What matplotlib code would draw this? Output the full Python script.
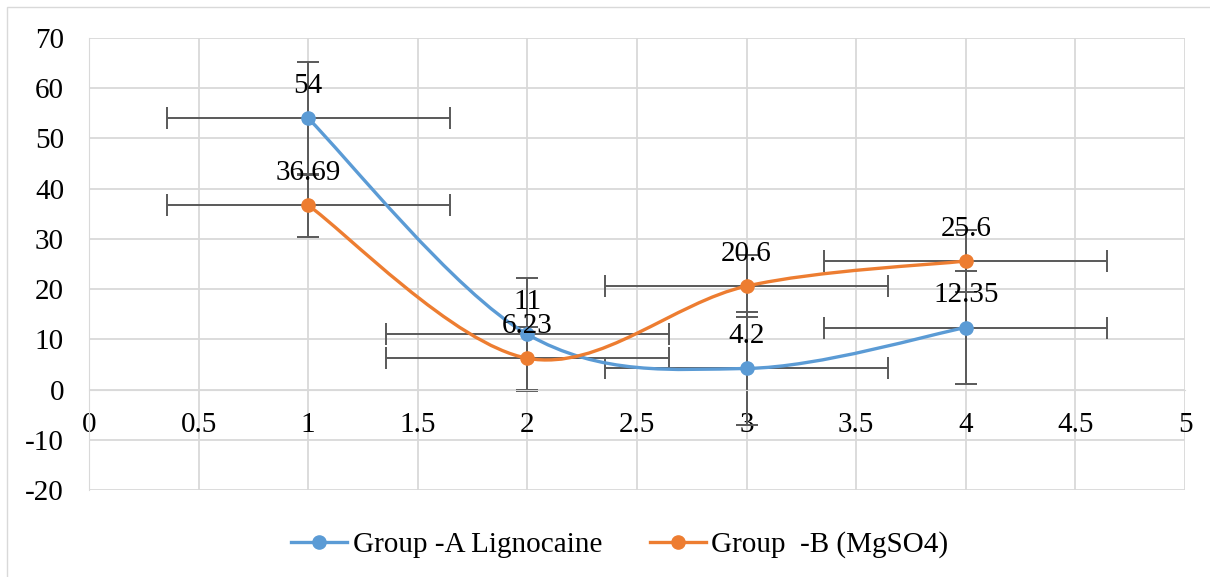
import numpy as np
import matplotlib
matplotlib.use("Agg")
import matplotlib.pyplot as plt
from matplotlib.path import Path
from matplotlib.patches import PathPatch, Rectangle
from matplotlib.lines import Line2D

# data
x_vals = [1, 2, 3, 4]
group_a = [54, 11, 4.2, 12.35]
group_b = [36.69, 6.23, 20.6, 25.6]
label_a = ["54", "11", "4.2", "12.35"]
label_b = ["36.69", "6.23", "20.6", "25.6"]
x_err = 0.645
y_err_a = 11.3
y_err_b = 6.25

series_names = ["Group -A Lignocaine", "Group  -B (MgSO4)"]
colors = ["#5B9BD5", "#ED7D31"]

x_ticks = [0, 0.5, 1, 1.5, 2, 2.5, 3, 3.5, 4, 4.5, 5]
x_tick_labels = ["0", "0.5", "1", "1.5", "2", "2.5", "3", "3.5", "4", "4.5", "5"]
y_ticks = [-20, -10, 0, 10, 20, 30, 40, 50, 60, 70]

plt.rcParams["font.family"] = ["Liberation Serif", "DejaVu Serif"]
plt.rcParams["axes.unicode_minus"] = False
FS = 21


def smooth_path(xs, ys):
    # Excel-like smoothed line: cubic bezier segments, catmull-rom style handles
    pts = np.column_stack([xs, ys]).astype(float)
    n = len(pts)
    verts = [pts[0]]
    codes = [Path.MOVETO]
    for i in range(n - 1):
        p0 = pts[i - 1] if i > 0 else pts[i]
        p1 = pts[i]
        p2 = pts[i + 1]
        p3 = pts[i + 2] if i + 2 < n else pts[i + 1]
        c1 = p1 + (p2 - p0) / 6.0
        c2 = p2 - (p3 - p1) / 6.0
        verts += [c1, c2, p2]
        codes += [Path.CURVE4] * 3
    return Path(verts, codes)


fig = plt.figure(figsize=(12.1, 5.77), dpi=100)
ax = fig.add_axes([89 / 1210, 1 - 490 / 577, (1185 - 89) / 1210, (490 - 38) / 577])

# outer chart border
fig.patches.append(Rectangle((7 / 1210, -0.01), 1.0, 1 - 7 / 577 + 0.01,
                             transform=fig.transFigure, fill=False,
                             edgecolor="#d9d9d9", lw=1.0))

ax.set_xlim(0, 5)
ax.set_ylim(-20, 70)
ax.set_xticks(x_ticks)
ax.set_xticklabels(x_tick_labels)
ax.set_yticks(y_ticks)
ax.grid(True, color="#d9d9d9", lw=1.3)
ax.set_axisbelow(True)

for side in ["top", "right"]:
    ax.spines[side].set_visible(False)
ax.spines["bottom"].set_position(("data", 0))
ax.spines["left"].set_position(("data", 0))
ax.spines["bottom"].set_color("#d9d9d9")
ax.spines["left"].set_color("#d9d9d9")
ax.tick_params(axis="both", length=0, labelsize=FS)
ax.tick_params(axis="x", pad=16)
ax.tick_params(axis="y", pad=18)

for ys, yerr, col, labs in [(group_a, y_err_a, colors[0], label_a),
                            (group_b, y_err_b, colors[1], label_b)]:
    ax.add_patch(PathPatch(smooth_path(x_vals, ys), facecolor="none",
                           edgecolor=col, lw=2.4, zorder=3, capstyle="round"))
    ax.errorbar(x_vals, ys, xerr=x_err, yerr=yerr, fmt="none",
                ecolor="#595959", elinewidth=1.4, capsize=8, capthick=1.4, zorder=2)
    ax.plot(x_vals, ys, "o", color=col, markersize=9.5, zorder=4)
    for xv, yv, lab in zip(x_vals, ys, labs):
        ax.annotate(lab, (xv, yv), xytext=(0, 14), textcoords="offset points",
                    ha="center", va="bottom", fontsize=FS, zorder=5)

handles = [Line2D([], [], color=c, lw=2.4, marker="o", markersize=9.5) for c in colors]
fig.legend(handles, series_names, loc="center",
           bbox_to_anchor=(0.5 + 15 / 1210, 1 - 545 / 577),
           ncol=2, frameon=False, fontsize=FS, handlelength=1.9,
           handletextpad=0.2, columnspacing=1.65)

fig.savefig("out.png", dpi=100)
